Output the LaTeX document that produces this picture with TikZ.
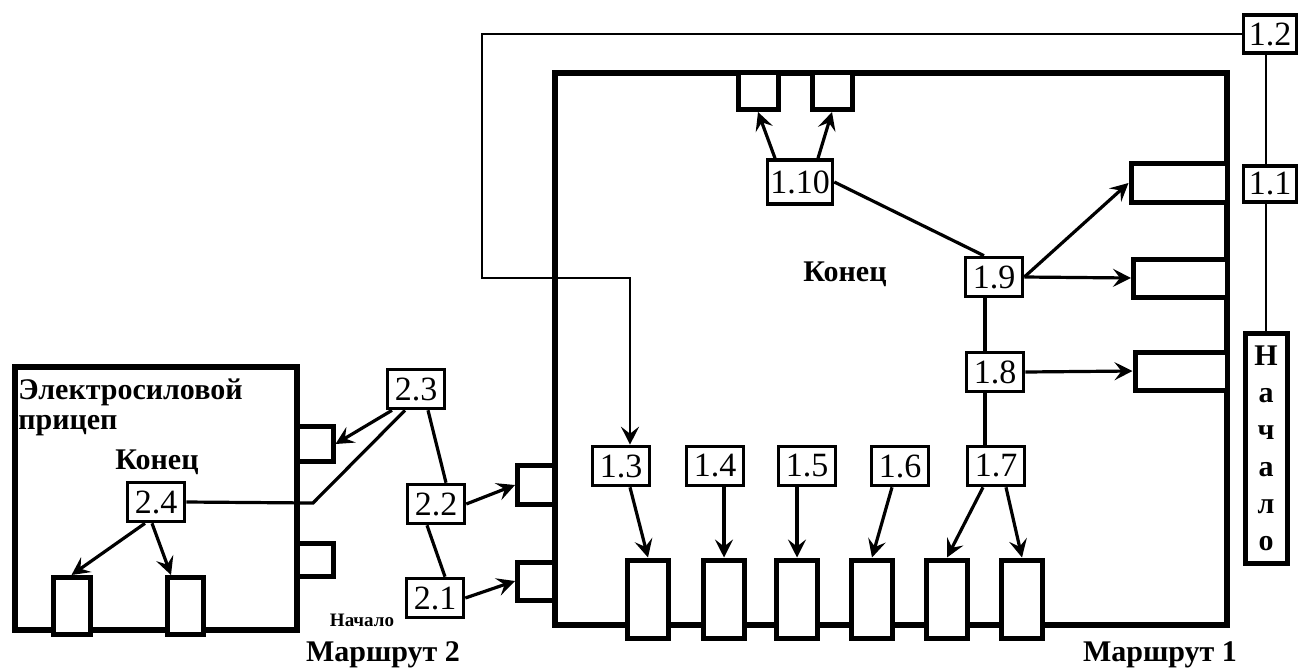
\documentclass[tikz,border=0pt]{standalone}
\usepackage{fontspec}
\setmainfont{Liberation Serif}
\usetikzlibrary{arrows.meta}
\begin{document}
\begin{tikzpicture}[x=0.5pt,y=-0.5pt,
  lbl/.style={draw, line width=1.8pt, fill=white, inner sep=0pt, minimum width=28.5pt, minimum height=19.5pt, font=\fontsize{17}{17}\selectfont},
  slot/.style={draw, line width=2.5pt, fill=white, inner sep=0pt},
  frame/.style={line width=2.8pt},
  conn/.style={line width=1.6pt},
  tip/.style={-{Stealth[length=9pt,width=9pt,inset=3.5pt]}},
  arr/.style={conn, tip},
  route/.style={line width=1.1pt},
  txt/.style={font=\bfseries\fontsize{15}{15}\selectfont, inner sep=0pt}
]
\useasboundingbox (0,0) rectangle (1300,670);

% frames
\draw[frame] (555,73) rectangle (1227,625);
\draw[frame] (15,367) rectangle (297,630);

% slots in main frame
\node[slot, minimum width=20pt, minimum height=18.5pt] (T1) at (758,91) {};
\node[slot, minimum width=20pt, minimum height=18.5pt] (T2) at (832,91) {};
\node[slot, minimum width=48pt, minimum height=19.5pt] (R1) at (1179,183) {};
\node[slot, minimum width=47pt, minimum height=19pt] (R2) at (1180.5,278) {};
\node[slot, minimum width=46pt, minimum height=19pt] (R3) at (1181,371) {};
\node[slot, minimum width=18.5pt, minimum height=19.5pt] (L1) at (536,485) {};
\node[slot, minimum width=18.5pt, minimum height=19pt] (L2) at (536,581) {};
\foreach \i/\x in {1/648,2/724,3/797,4/872,5/947,6/1022}
  \node[slot, minimum width=20.5pt, minimum height=39pt] (B\i) at (\x,599) {};

% slots of trailer
\node[slot, minimum width=18pt, minimum height=17.5pt] (tr1) at (315,444) {};
\node[slot, minimum width=18pt, minimum height=16.5pt] (tr2) at (315,560) {};
\node[slot, minimum width=18.5pt, minimum height=28.5pt] (TB1) at (71.5,606) {};
\node[slot, minimum width=18pt, minimum height=28.5pt] (TB2) at (185,606) {};

% labels
\node[lbl, minimum width=26.5pt, minimum height=19pt] (n12) at (1270,34) {1.2};
\node[lbl, minimum width=26.5pt, minimum height=18pt] (n11) at (1270,184) {1.1};
\node[lbl, minimum width=32.5pt, minimum height=22pt] (n110) at (800,182) {1.10};
\node[lbl] (n19) at (994,277) {1.9};
\node[lbl] (n18) at (995,372) {1.8};
\node[lbl] (n17) at (996,466) {1.7};
\node[lbl] (n13) at (621,466) {1.3};
\node[lbl] (n14) at (715,466) {1.4};
\node[lbl] (n15) at (807,466) {1.5};
\node[lbl] (n16) at (900,466) {1.6};
\node[lbl] (n23) at (416,389) {2.3};
\node[lbl] (n22) at (436,504) {2.2};
\node[lbl] (n21) at (435,598) {2.1};
\node[lbl] (n24) at (156,502) {2.4};
\node[draw, line width=2.5pt, minimum width=21pt, minimum height=115pt, inner sep=0pt, align=center,
      font=\bfseries\fontsize{15}{18.5}\selectfont] (nach) at (1266,448) {Н\\а\\ч\\а\\л\\о};

% texts
\node[txt, anchor=west] (t1) at (18,392) {Электросиловой};
\node[txt, anchor=west] (t2) at (18,426) {прицеп};
\node[txt] (k2) at (157,462) {Конец};
\node[txt] (k1) at (845,274) {Конец};
\node[font=\bfseries\fontsize{9.5}{9.5}\selectfont, inner sep=0pt] (nsm) at (362,620) {Начало};
\node[txt] (m2) at (383,655) {Маршрут 2};
\node[txt] (m1) at (1160,655) {Маршрут 1};

% route 1
\coordinate (r1) at (482,278);
\draw[route, tip] (n12.west) -| (r1) -| ([xshift=4.5pt]n13.north);
\draw[route] (n12.south -| nach.north) -- (n11.north -| nach.north);
\draw[route] (n11.south -| nach.north) -- (nach.north);

% connectors main
\draw[arr] ([xshift=-12.5pt]n110.north) -- (T1.south);
\draw[arr] ([xshift=9pt]n110.north) -- (T2.south);
\draw[conn] (n110.east) -- ([xshift=-5pt]n19.north);
\draw[arr] (n19.east) -- (R1.west);
\draw[arr] (n19.east) -- (R2.west);
\draw[conn] ([xshift=-4.5pt]n19.south) -- ([xshift=-5pt]n18.north);
\draw[arr] (n18.east) -- (R3.west);
\draw[conn] ([xshift=-5pt]n18.south) -- ([xshift=-5.5pt]n17.north);
\draw[arr] ([xshift=-6.5pt]n17.south) -- (B5.north);
\draw[arr] ([xshift=5pt]n17.south) -- (B6.north);
\draw[arr] ([xshift=4.5pt]n13.south) -- (B1.north);
\draw[arr] (n14.south -| B2.north) -- (B2.north);
\draw[arr] (n15.south -| B3.north) -- (B3.north);
\draw[arr] ([xshift=-4pt]n16.south) -- (B4.north);

% route 2
\draw[arr] (n22.east) -- (L1.west);
\draw[arr] (n21.east) -- (L2.west);
\draw[conn] ([xshift=6pt]n23.south) -- ([xshift=5pt]n22.north);
\draw[conn] ([xshift=-4.5pt]n22.south) -- ([xshift=5pt]n21.north);
\draw[arr] ([xshift=-12pt]n23.south) -- (tr1.east);
\coordinate (c24) at (313,503);
\draw[conn] ([xshift=-5.5pt]n23.south) -- (c24) -- (n24.east);
\draw[arr] ([xshift=-5.5pt]n24.south) -- (TB1.north);
\draw[arr] ([xshift=-2pt]n24.south) -- ([xshift=-7pt]TB2.north);
\end{tikzpicture}
\end{document}
